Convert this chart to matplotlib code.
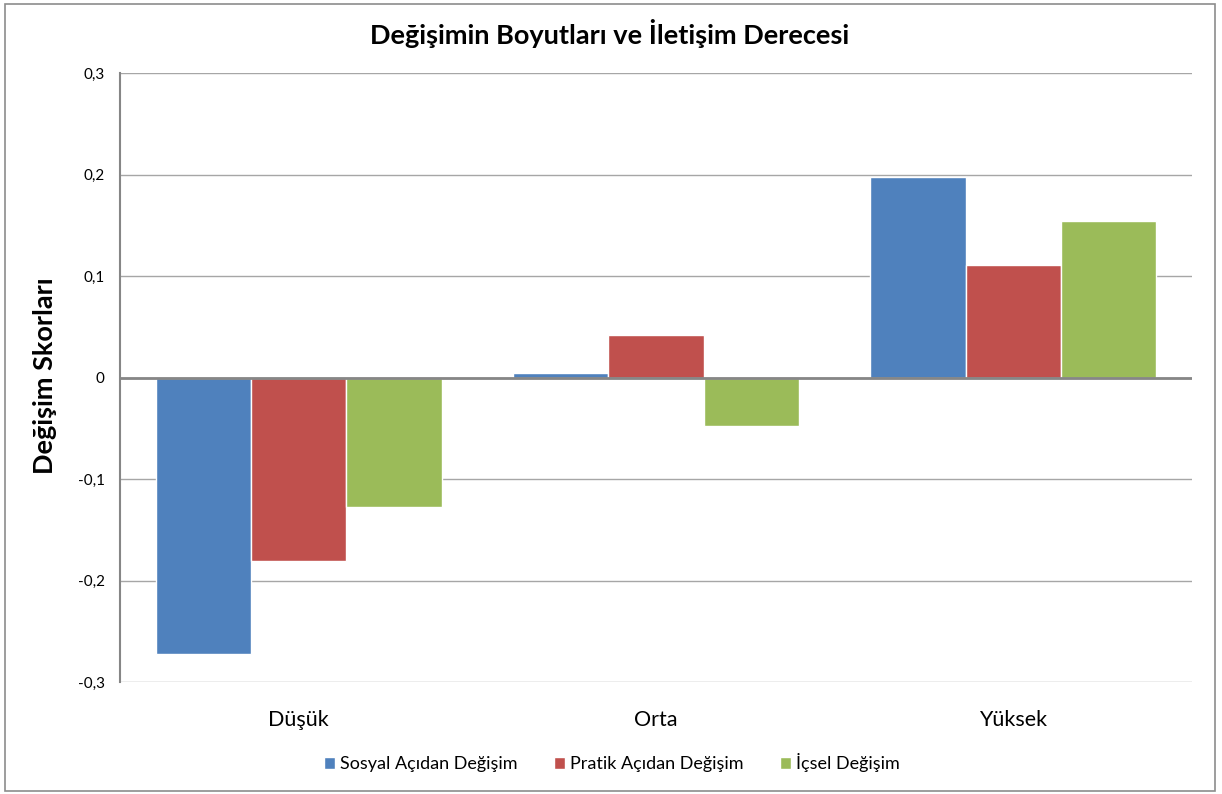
import matplotlib
matplotlib.use("Agg")
import matplotlib.pyplot as plt
import numpy as np
from matplotlib.patches import Rectangle

plt.rcParams['font.family'] = ['Lato', 'DejaVu Sans']

categories = ["Düşük", "Orta", "Yüksek"]
series_names = ["Sosyal Açıdan Değişim", "Pratik Açıdan Değişim", "İçsel Değişim"]
sosyal = [-0.272, 0.004, 0.198]
pratik = [-0.181, 0.042, 0.111]
icsel = [-0.128, -0.048, 0.154]
yticks = [-0.3, -0.2, -0.1, 0, 0.1, 0.2, 0.3]
ytick_labels = ["-0,3", "-0,2", "-0,1", "0", "0,1", "0,2", "0,3"]
colors = ["#4F81BD", "#C0504D", "#9BBB59"]

W, H = 1222, 794
fig = plt.figure(figsize=(W / 100, H / 100), dpi=100)
fig.patch.set_facecolor("white")
# outer border
fig.patches.append(Rectangle((5 / W, 3 / H), (1215 - 5) / W, (790 - 3) / H,
                             transform=fig.transFigure, fill=False,
                             edgecolor="#8C8C8C", linewidth=1.2))

ax = fig.add_axes([120 / W, 1 - 682 / H, (1192 - 120) / W, (682 - 73) / H])
x = np.arange(len(categories))
bw = 0.8 / 3
for i, (vals, c, name) in enumerate(zip([sosyal, pratik, icsel], colors, series_names)):
    ax.bar(x + (i - 1) * bw, vals, width=bw, color=c, edgecolor="white",
           linewidth=1.0, label=name, zorder=3)

ax.set_xlim(-0.5, 2.5)
ax.set_ylim(-0.3, 0.3)
ax.set_yticks(yticks)
ax.set_yticklabels(ytick_labels, fontsize=11)
ax.set_xticks(x)
ax.set_xticklabels(categories, fontsize=15.5)
ax.tick_params(axis="y", length=0, pad=11)
ax.tick_params(axis="x", length=0, pad=20)
ax.grid(axis="y", color="#A6A6A6", linewidth=1.0, zorder=0)
ax.axhline(0, color="#868686", linewidth=2.0, zorder=4)
for s in ["top", "right", "bottom"]:
    ax.spines[s].set_visible(False)
ax.spines["left"].set_color("#868686")
ax.spines["left"].set_linewidth(1.5)

fig.text(610 / W, 1 - 33 / H, "Değişimin Boyutları ve İletişim Derecesi",
         ha="center", va="center", fontsize=19.5, fontweight="bold")
fig.text(45 / W, 1 - 376 / H, "Değişim Skorları", ha="center", va="center",
         rotation=90, fontsize=19.5, fontweight="bold")

handles, labels = ax.get_legend_handles_labels()
leg = fig.legend(handles, labels, loc="center", bbox_to_anchor=(612 / W, 1 - 763 / H),
                 ncol=3, frameon=False, fontsize=13, handlelength=0.6, handleheight=0.6,
                 handletextpad=0.3, columnspacing=2.0)

fig.savefig("out.png", dpi=100)
